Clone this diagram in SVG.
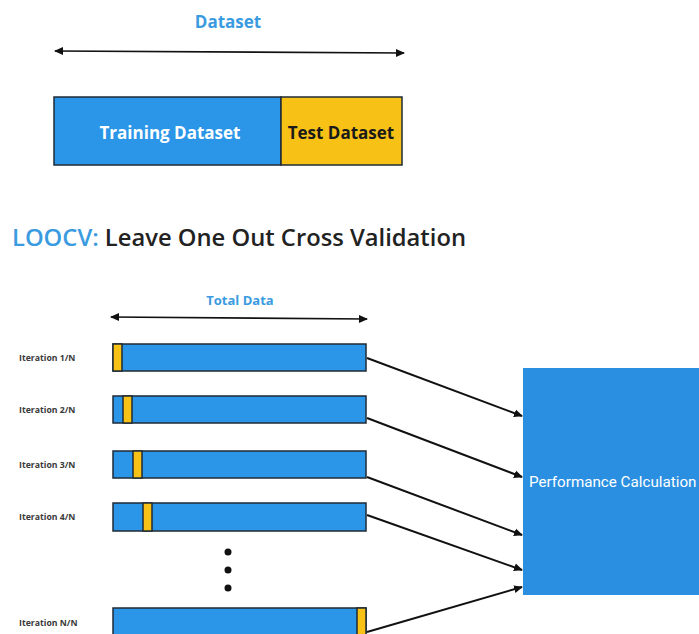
<svg xmlns="http://www.w3.org/2000/svg" width="699" height="634" viewBox="0 0 699 634">
<style>
.blue{fill:#2b96e8;stroke:#1f2a36;stroke-width:1.5}
.yel{fill:#f7c116;stroke:#1f2a36;stroke-width:1.5}
.lab{font-family:"Open Sans",sans-serif;font-weight:700;font-size:8.7px;fill:#3a3a3a}
.con{stroke:#111;stroke-width:2;fill:none;marker-end:url(#ah)}
.dim{stroke:#111;stroke-width:1.6;fill:none;marker-start:url(#ah2);marker-end:url(#ah)}
</style>
<defs>
<marker id="ah" markerWidth="10" markerHeight="10" refX="8" refY="5" orient="auto" markerUnits="userSpaceOnUse"><path d="M0,1 L9,5 L0,9 z" fill="#111"/></marker>
<marker id="ah2" markerWidth="10" markerHeight="10" refX="2" refY="5" orient="auto" markerUnits="userSpaceOnUse"><path d="M10,1 L1,5 L10,9 z" fill="#111"/></marker>
</defs>
<rect width="699" height="634" fill="#fff"/>
<g id="dataset-dim">
<text x="228" y="28" text-anchor="middle" font-family="Open Sans, sans-serif" font-weight="700" font-size="17" fill="#3a9be0">Dataset</text>
<line class="dim" x1="55" y1="51" x2="404" y2="53"/>
</g>
<g id="split">
<rect class="blue" x="54" y="97" width="227" height="68"/>
<rect class="yel" x="281" y="97" width="121" height="68"/>
<text x="170" y="139" text-anchor="middle" font-family="Open Sans, sans-serif" font-weight="700" font-size="17" fill="#fff">Training Dataset</text>
<text x="341" y="139" text-anchor="middle" font-family="Open Sans, sans-serif" font-weight="700" font-size="17" fill="#1a1a1a">Test Dataset</text>
</g>
<g id="title">
<text x="12" y="246" font-family="Open Sans, sans-serif" font-weight="600" font-size="24" fill="#222" textLength="454" lengthAdjust="spacingAndGlyphs"><tspan fill="#3a9be0">LOOCV:</tspan> Leave One Out Cross Validation</text>
</g>
<g id="total-dim">
<text x="240" y="305" text-anchor="middle" font-family="Open Sans, sans-serif" font-weight="700" font-size="13" fill="#3a9be0">Total Data</text>
<line class="dim" x1="111" y1="317" x2="367" y2="319"/>
</g>
<g id="iter1">
<text class="lab" x="19" y="361">Iteration 1/N</text>
<rect class="blue" x="113" y="344" width="253" height="27"/>
<rect class="yel" x="113" y="344" width="9" height="27"/>
</g>
<g id="iter2">
<text class="lab" x="19" y="413">Iteration 2/N</text>
<rect class="blue" x="113" y="396" width="253" height="27"/>
<rect class="yel" x="123" y="396" width="9" height="27"/>
</g>
<g id="iter3">
<text class="lab" x="19" y="468">Iteration 3/N</text>
<rect class="blue" x="113" y="451" width="253" height="27"/>
<rect class="yel" x="133" y="451" width="9" height="27"/>
</g>
<g id="iter4">
<text class="lab" x="19" y="520">Iteration 4/N</text>
<rect class="blue" x="113" y="503" width="253" height="28"/>
<rect class="yel" x="143" y="503" width="9" height="28"/>
</g>
<g id="dots">
<circle cx="228" cy="552" r="3.5" fill="#111"/>
<circle cx="228" cy="570" r="3.5" fill="#111"/>
<circle cx="228" cy="588" r="3.5" fill="#111"/>
</g>
<g id="iterN">
<text class="lab" x="19" y="626">Iteration N/N</text>
<rect class="blue" x="113" y="608" width="253" height="30"/>
<rect class="yel" x="357" y="608" width="9" height="30"/>
</g>
<g id="perf">
<rect x="523" y="368" width="176" height="227" fill="#2a8fe0"/>
<text x="529" y="487" font-family="Roboto, sans-serif" font-size="15.2" fill="#fff">Performance Calculation</text>
</g>
<g id="connectors">
<line class="con" x1="367" y1="358" x2="522" y2="416"/>
<line class="con" x1="367" y1="418" x2="522" y2="477"/>
<line class="con" x1="367" y1="477" x2="522" y2="535"/>
<line class="con" x1="367" y1="515" x2="522" y2="570"/>
<line class="con" x1="367" y1="632" x2="522" y2="587"/>
</g>
</svg>
